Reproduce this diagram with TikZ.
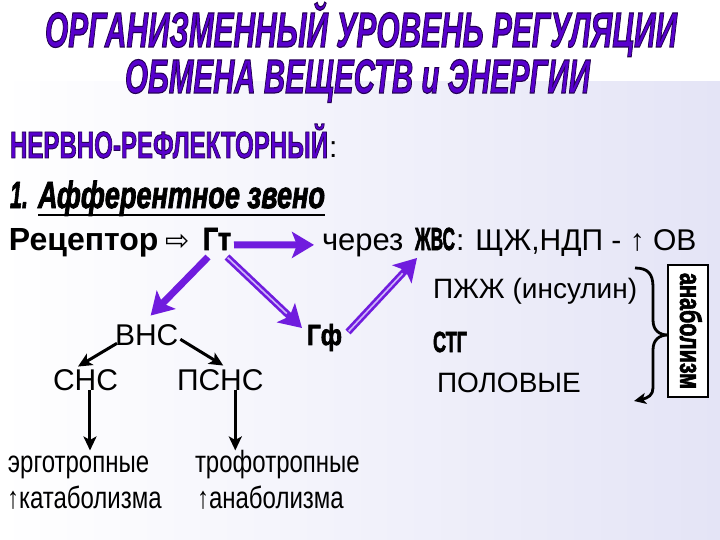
\documentclass[tikz,border=0pt]{standalone}
\usepackage{fontspec}
\setmainfont{Liberation Sans}
\newfontfamily\dejavu{DejaVu Sans}
\usepackage{graphicx}
\usetikzlibrary{arrows.meta,calc}
\definecolor{ttl}{RGB}{88,0,205}
\definecolor{parrc}{RGB}{112,28,222}
\definecolor{parrl}{RGB}{205,180,250}
\definecolor{bgr}{RGB}{228,228,246}
% heavy condensed text: fill + stroke
\newcommand{\hvy}[1]{\special{pdf:literal direct 2 Tr 0.25 w}#1\special{pdf:literal direct 0 Tr}}
\newcommand{\condtext}[3]{\resizebox{#1}{#2}{\hvy{\bfseries\smash{#3}\vphantom{H}}}}
\newcommand{\condit}[3]{\resizebox{#1}{#2}{\hvy{\bfseries\itshape\smash{#3}\vphantom{H}}}}
\newcommand{\outl}[1]{{\color{ttl}\special{pdf:literal direct 0.14 0 0.33 RG}#1}}
\newcommand{\fs}[1]{\fontsize{#1}{#1}\selectfont}
\newcommand{\tall}[1]{\scalebox{1}[1.28]{#1}}
\begin{document}
\begin{tikzpicture}[x=1pt,y=-1pt,
  every node/.style={inner sep=0pt, outer sep=0pt, anchor=base west},
  parr/.style={-{Stealth[length=22pt,width=26pt,inset=5pt]}, line width=7pt, draw=parrc},
  pinner/.style={line width=1.6pt, draw=parrl, shorten >=21pt, shorten <=1pt},
  barr/.style={-{Stealth[length=14pt,width=13pt,inset=3.5pt]}, line width=3pt},
  ]
\fill[white] (0,0) rectangle (720,540);
\shade[left color=white, right color=bgr] (0,82) rectangle (720,540);
\useasboundingbox (0,0) rectangle (720,540);

% title
\node (t1) at (45,47) {\outl{\condit{632pt}{34pt}{ОРГАНИЗМЕННЫЙ УРОВЕНЬ РЕГУЛЯЦИИ}}};
\node (t2) at (125,93) {\outl{\condit{465pt}{33pt}{ОБМЕНА ВЕЩЕСТВ и ЭНЕРГИИ}}};

\node (nr) at (10,158) {\outl{\condtext{318pt}{26pt}{НЕРВНО-РЕФЛЕКТОРНЫЙ}}};
\node (colon) at (329,158) {\fs{30}:};

\node (one) at (10,208) {\condit{18pt}{26pt}{1.}};
\node (aff) at (38,208) {\condit{287pt}{26pt}{Афферентное звено}};
\draw[line width=2.5pt] ([shift={(0,7)}]aff.base west) -- ([shift={(0,7)}]aff.base east);

\node (rec) at (9,250) {\fs{32}\bfseries Рецептор};
\node (imp) at (165,251) {\dejavu\fs{29}⇨};
\node (gt) at (203,250) {\condtext{28pt}{22pt}{Гт}};
\node (cherez) at (322,250) {\fs{31}через};
\node (zhvs) at (415,250) {\condtext{40pt}{22pt}{ЖВС}};
\node (rest) at (456,250) {\fs{30}: ЩЖ,НДП - ↑ ОВ};

\node (pzh) at (433,298) {\fs{28}ПЖЖ (инсулин)};
\node (stg) at (433,352) {\condtext{34pt}{20pt}{СТГ}};
\node (pol) at (437,392) {\fs{28}ПОЛОВЫЕ};

\node (gf) at (307,345) {\condtext{35pt}{20pt}{Гф}};
\node (vns) at (115,345) {\fs{30}ВНС};
\node (sns) at (53,390) {\fs{30}СНС};
\node (psns) at (177,390) {\fs{30}ПСНС};

\node (ergo) at (8,472) {\tall{\fs{24}эрготропные}};
\node (trofo) at (195,472) {\tall{\fs{24}трофотропные}};
\node (kata) at (7,508) {\tall{\fs{24}↑катаболизма}};
\node (ana) at (197,508) {\tall{\fs{24}↑анаболизма}};

\node[draw, line width=2.5pt, fill=white, rotate=-90, minimum width=132pt, minimum height=40pt, anchor=center] (anab) at (688,331)
  {\resizebox{116pt}{16pt}{\hvy{\bfseries\smash{анаболизм}\vphantom{а}}}};

% brace
\draw[line width=2.8pt, -{Stealth[length=12pt,width=11pt,inset=3pt]}]
  (635,268) .. controls (648,268) and (653,274) .. (653,287) -- (653,320)
  .. controls (653,330) and (659,335) .. (668,335)
  .. controls (659,335) and (653,340) .. (653,350) -- (653,388)
  .. controls (653,395) and (648,398) .. (634,401);

% purple arrows
\draw[parr] ([shift={(3,6)}]gt.east) -- ([xshift=-8pt]cherez.west);
\draw[parr] ([shift={(5,7)}]gt.south west) -- ([shift={(4,-8.5)}]vns.north);
\draw[parr] ([shift={(-4,7)}]gt.south east) -- ([shift={(-5,3)}]gf.north west);
\draw[pinner] ([shift={(-4,7)}]gt.south east) -- ([shift={(-5,3)}]gf.north west);
\draw[parr] ([shift={(6,-13)}]gf.south east) -- ([shift={(2,8)}]zhvs.south west);
\draw[pinner] ([shift={(6,-13)}]gf.south east) -- ([shift={(2,8)}]zhvs.south west);

% black arrows
\draw[barr] ([shift={(2,-2)}]vns.south west) -- ([shift={(-7.5,-2.5)}]sns.north);
\draw[barr] ([shift={(2,-6)}]vns.south east) -- ([shift={(3,-3.5)}]psns.north);
\draw[barr, shorten >=5pt] ([xshift=4.5pt]sns.south) -- ([xshift=4.5pt]sns.south |- ergo.north);
\draw[barr, shorten >=5pt] ([xshift=15pt]psns.south) -- ([xshift=15pt]psns.south |- ergo.north);
\end{tikzpicture}
\end{document}
